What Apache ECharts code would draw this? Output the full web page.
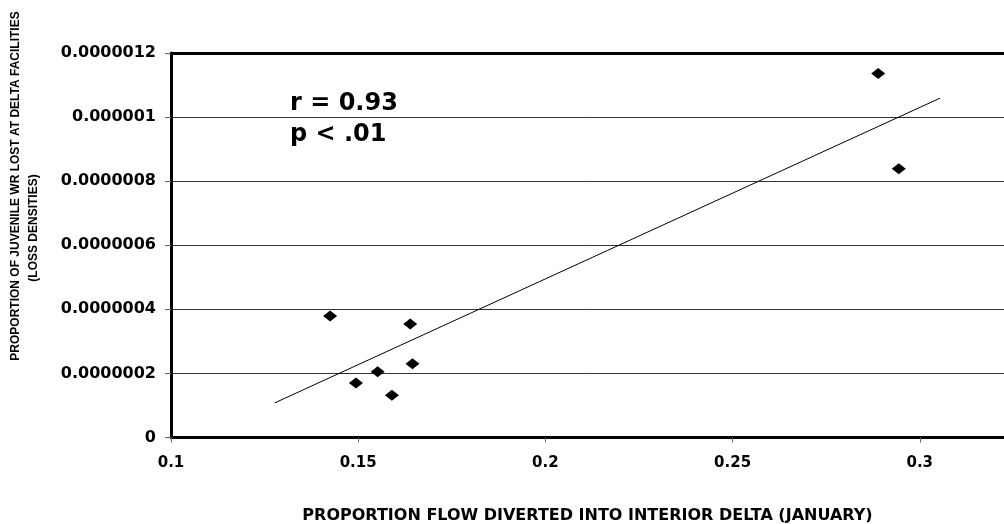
<!DOCTYPE html>
<html>
<head>
<meta charset="utf-8">
<script src="https://cdn.jsdelivr.net/npm/echarts@6/dist/echarts.min.js"></script>
<style>
  html, body { margin: 0; padding: 0; background: #fff; }
  #chart { width: 1004px; height: 524px; }
</style>
</head>
<body>
<div id="chart"></div>
<script>
// flow diverted (x) vs loss density (y)
var flowDiverted = [0.1425, 0.1494, 0.1552, 0.1590, 0.1639, 0.1645, 0.2889, 0.2944]
var lossDensity = [3.79e-7, 1.70e-7, 2.05e-7, 1.32e-7, 3.54e-7, 2.30e-7, 1.136e-6, 8.39e-7]

// fitted line end points
var trendX = [0.1277, 0.3054]
var trendY = [1.08e-7, 1.059e-6]

var statsText = ['r = 0.93', 'p < .01']
var yTitle = ['PROPORTION OF JUVENILE WR LOST AT DELTA FACILITIES', '(LOSS DENSITIES)']
var xTitle = 'PROPORTION FLOW DIVERTED INTO INTERIOR DELTA (JANUARY)'

var points = flowDiverted.map(function(x, i) { return [x, lossDensity[i]] })
var trend = trendX.map(function(x, i) { return [x, trendY[i]] })

var chart = echarts.init(document.getElementById('chart'))

function titleText(text, x, y) {
  return {
    type: 'text',
    x: x,
    y: y,
    rotation: Math.PI / 2,
    style: {
      text: text,
      fontFamily: 'Liberation Sans',
      fontWeight: 'bold',
      fontSize: 12,
      fill: '#000',
      align: 'center',
      verticalAlign: 'middle'
    }
  }
}

function statText(text, y) {
  return {
    type: 'text',
    x: 290,
    y: y,
    style: {
      text: text,
      fontFamily: 'DejaVu Sans',
      fontWeight: 'bold',
      fontSize: 24,
      fill: '#000',
      verticalAlign: 'middle'
    }
  }
}

chart.setOption({
  backgroundColor: '#fff',
  animation: false,
  grid: {
    left: 171,
    right: 0,
    top: 53,
    bottom: 86.5,
    outerBoundsMode: 'none'
  },
  xAxis: [
    {
      type: 'value',
      min: 0.1,
      max: 0.3225,
      interval: 0.05,
      name: xTitle,
      nameLocation: 'middle',
      nameGap: 70,
      nameTextStyle: {
        fontFamily: 'DejaVu Sans',
        fontWeight: 'bold',
        fontSize: 16,
        color: '#000'
      },
      axisLine: { lineStyle: { color: '#000', width: 3 } },
      axisTick: { length: 5, lineStyle: { color: '#666', width: 1 } },
      axisLabel: {
        showMaxLabel: false,
        margin: 18,
        fontFamily: 'DejaVu Sans',
        fontWeight: 'bold',
        fontSize: 15,
        color: '#000'
      },
      splitLine: { show: false }
    },
    {
      // top frame line
      type: 'value',
      position: 'top',
      min: 0.1,
      max: 0.3225,
      axisLine: { lineStyle: { color: '#000', width: 3 } },
      axisTick: { show: false },
      axisLabel: { show: false },
      splitLine: { show: false }
    }
  ],
  yAxis: {
    type: 'value',
    min: 0,
    max: 1.2e-6,
    interval: 2e-7,
    axisLine: { show: true, lineStyle: { color: '#000', width: 3 } },
    axisTick: { show: true, length: 6, lineStyle: { color: '#666', width: 1 } },
    axisLabel: {
      margin: 15,
      fontFamily: 'DejaVu Sans',
      fontWeight: 'bold',
      fontSize: 16,
      color: '#000',
      formatter: function(v) {
        return v.toFixed(7).replace(/\.?0+$/, '')
      }
    },
    splitLine: { show: true, lineStyle: { color: '#333', width: 1 } }
  },
  series: [
    {
      name: 'Loss density',
      type: 'scatter',
      data: points,
      symbol: 'diamond',
      symbolSize: [14, 11],
      itemStyle: { color: '#000', opacity: 1 }
    },
    {
      name: 'Trend',
      type: 'line',
      data: trend,
      symbol: 'none',
      lineStyle: { color: '#000', width: 1 }
    }
  ],
  graphic: [
    titleText(yTitle[0], 16, 186),
    titleText(yTitle[1], 34, 228),
    statText(statsText[0], 104),
    statText(statsText[1], 135)
  ]
})
</script>
</body>
</html>
